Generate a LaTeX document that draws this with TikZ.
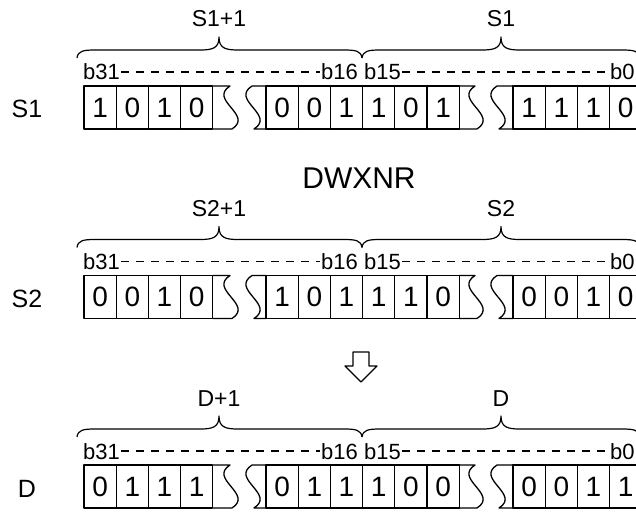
\documentclass[tikz,border=0pt]{standalone}
\usepackage{fontspec}
\setmainfont{Liberation Sans}
\newcommand\bitrow[8]{%
\begin{scope}[yshift=#2]
  \node[rowlab] (lab#1) at (27,118) {#3};
  \node[bracelab] (hi#1) at (219,27) {#4};
  \node[bracelab] (lo#1) at (501,27) {#5};
  \draw[bracestyle] (77,58) .. controls (78,51) and (83,50) .. (95,50) -- (200,50)
     .. controls (213,50) and (219,48) .. (219,37) .. controls (219,48) and (225,50) .. (238,50)
     -- (344,50) .. controls (356,50) and (361,51) .. (362,58);
  \draw[bracestyle] (362,58) .. controls (363,51) and (368,50) .. (380,50) -- (482,50)
     .. controls (495,50) and (501,48) .. (501,37) .. controls (501,48) and (507,50) .. (520,50)
     -- (622,50) .. controls (634,50) and (639,51) .. (640,58);
  \node[bitlab] (bA#1) at (82,80) {b31};
  \node[bitlab] (bB#1) at (320,80) {b16};
  \node[bitlab] (bC#1) at (363,80) {b15};
  \node[bitlab] (bD#1) at (609,80) {b0};
  \draw[bitdash] (bA#1.east) -- (bB#1.west);
  \draw[bitdash] (bC#1.east) -- (bD#1.west);
  \foreach \d [count=\i from 0] in {#6} \node[cell] (c#1a\i) at ({100.1+32.2*\i},107.5) {\d};
  \foreach \d [count=\i from 0] in {#7} \node[cell] (c#1b\i) at ({282.1+32.2*\i},107.5) {\d};
  \foreach \d [count=\i from 0] in {#8} \node[cell] (c#1c\i) at ({529.1+32.2*\i},107.5) {\d};
  \draw[boxline] (212.8,86) -- (230,86) .. controls (208,100) and (254,115) .. (232,129) -- (212.8,129);
  \draw[boxline] (266,86) -- (252,86) .. controls (230,100) and (276,115) .. (254,129) -- (266,129);
  \draw[boxline] (459.2,86) -- (475,86) .. controls (453,100) and (499,115) .. (477,129) -- (459.2,129);
  \draw[boxline] (513,86) -- (497,86) .. controls (475,100) and (521,115) .. (499,129) -- (513,129);
\end{scope}}
\begin{document}
\begin{tikzpicture}[x=1pt,y=-1pt,line join=round,
  boxline/.style={line width=1.3pt},
  cell/.style={draw, line width=1.3pt, rectangle, minimum width=32.2pt, minimum height=43pt, inner sep=0pt, font=\fontsize{28}{30}\selectfont},
  rowlab/.style={anchor=base, inner sep=0pt, font=\fontsize{25}{27}\selectfont},
  bracelab/.style={anchor=base, inner sep=0pt, font=\fontsize{23}{25}\selectfont},
  bitlab/.style={anchor=base west, inner sep=1pt, font=\fontsize{22}{24}\selectfont},
  bitdash/.style={line width=1.4pt, dash pattern=on 8pt off 7pt},
  bracestyle/.style={line width=1.2pt}]
\useasboundingbox (0,0) rectangle (636,513);
\bitrow{1}{0pt}{S1}{S1+1}{S1}{1,0,1,0}{0,0,1,1,0,1}{1,1,1,0}
\bitrow{2}{-189.5pt}{S2}{S2+1}{S2}{0,0,1,0}{1,0,1,1,1,0}{0,0,1,0}
\bitrow{3}{-379pt}{D}{D+1}{D}{0,1,1,1}{0,1,1,1,0,0}{0,0,1,1}
\node[anchor=base, inner sep=0pt, font=\fontsize{30}{32}\selectfont] (op) at (359,188) {DWXNR};
\draw[line width=1.2pt] (353,352) -- (369,352) -- (369,366) -- (377,366) -- (361,382) -- (345,366) -- (353,366) -- cycle;
\end{tikzpicture}
\end{document}
